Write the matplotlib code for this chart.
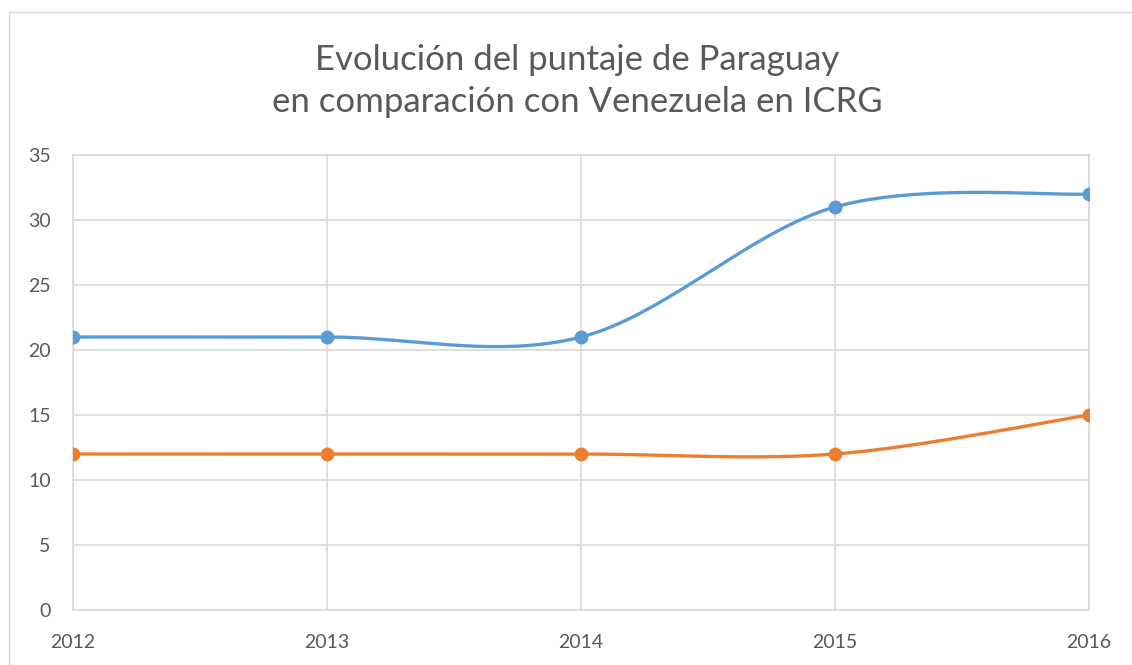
import matplotlib.pyplot as plt
import numpy as np
from matplotlib.lines import Line2D

years = [2012, 2013, 2014, 2015, 2016]
paraguay = [21, 21, 21, 31, 32]
venezuela = [12, 12, 12, 12, 15]
yticks = [0, 5, 10, 15, 20, 25, 30, 35]

text_color = '#595959'
grid_color = '#D9D9D9'
plt.rcParams['font.family'] = ['Lato', 'DejaVu Sans']


def smooth(xs, ys, n=40):
    # excel-like smoothed line: bezier segments with catmull-rom control points
    xs = np.asarray(xs, float)
    ys = np.asarray(ys, float)
    px = np.concatenate([[xs[0]], xs, [xs[-1]]])
    py = np.concatenate([[ys[0]], ys, [ys[-1]]])
    out_x, out_y = [], []
    t = np.linspace(0, 1, n)
    for i in range(1, len(px) - 2):
        c1x = px[i] + (px[i + 1] - px[i - 1]) / 6
        c1y = py[i] + (py[i + 1] - py[i - 1]) / 6
        c2x = px[i + 1] - (px[i + 2] - px[i]) / 6
        c2y = py[i + 1] - (py[i + 2] - py[i]) / 6
        bx = (1-t)**3*px[i] + 3*(1-t)**2*t*c1x + 3*(1-t)*t**2*c2x + t**3*px[i+1]
        by = (1-t)**3*py[i] + 3*(1-t)**2*t*c1y + 3*(1-t)*t**2*c2y + t**3*py[i+1]
        out_x.extend(bx)
        out_y.extend(by)
    return out_x, out_y


fig = plt.figure(figsize=(11.32, 6.65), dpi=100)
ax = fig.add_axes([73/1132, 1 - 610/665, (1089-73)/1132, (610-155)/665])

for ys, col in [(paraguay, '#5B9BD5'), (venezuela, '#ED7D31')]:
    sx, sy = smooth(years, ys)
    ax.plot(sx, sy, color=col, lw=2.4, solid_capstyle='round', zorder=3)
    ax.plot(years, ys, 'o', color=col, ms=9, zorder=4)

ax.set_xlim(years[0], years[-1])
ax.set_ylim(0, 35)
ax.set_yticks(yticks)
ax.set_xticks(years)
ax.grid(True, color=grid_color, lw=1.2)
ax.set_axisbelow(True)
for s in ax.spines.values():
    s.set_color(grid_color)
    s.set_linewidth(1.2)
ax.tick_params(length=0, colors=text_color, labelsize=14)
ax.tick_params(axis='y', pad=16)
ax.tick_params(axis='x', pad=17)

fig.text(577/1132, 1 - 81/665,
         'Evolución del puntaje de Paraguay\nen comparación con Venezuela en ICRG',
         ha='center', va='center', fontsize=25, color=text_color, linespacing=1.4)

# chart area frame (only left and top visible)
fig.add_artist(Line2D([9/1132, 9/1132], [0, 1 - 12/665], color='#D9D9D9', lw=1))
fig.add_artist(Line2D([9/1132, 1], [1 - 12/665, 1 - 12/665], color='#D9D9D9', lw=1))

fig.savefig('out.png', dpi=100)
